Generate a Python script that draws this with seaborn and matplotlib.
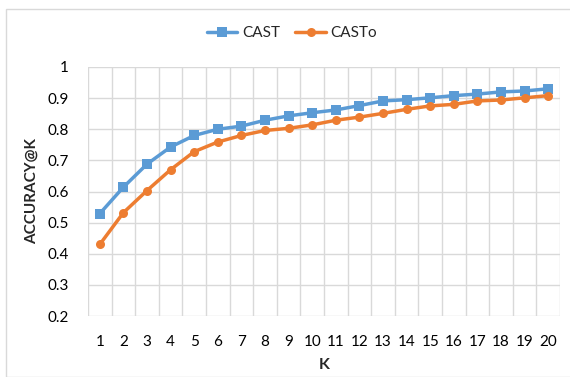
import matplotlib
matplotlib.use("Agg")
import matplotlib.pyplot as plt
import seaborn as sns
import pandas as pd
from matplotlib.patches import Rectangle
from matplotlib.lines import Line2D

k_values = list(range(1, 21))
cast = [0.529, 0.614, 0.688, 0.743, 0.780, 0.800, 0.810, 0.829, 0.843, 0.853,
        0.862, 0.876, 0.891, 0.895, 0.901, 0.908, 0.913, 0.920, 0.923, 0.930]
casto = [0.430, 0.532, 0.603, 0.670, 0.728, 0.759, 0.780, 0.796, 0.803, 0.814,
         0.829, 0.839, 0.851, 0.864, 0.875, 0.880, 0.891, 0.894, 0.901, 0.908]
y_ticks = [0.2, 0.3, 0.4, 0.5, 0.6, 0.7, 0.8, 0.9, 1.0]
y_tick_labels = ["0.2", "0.3", "0.4", "0.5", "0.6", "0.7", "0.8", "0.9", "1"]

sns.set_theme(style="white")
plt.rcParams['font.family'] = ['Lato', 'DejaVu Sans']

df = pd.DataFrame({
    "K": k_values * 2,
    "acc": cast + casto,
    "series": ["CAST"] * len(k_values) + ["CASTo"] * len(k_values),
})

fig = plt.figure(figsize=(5.7, 3.77), dpi=100)
fig.patches.append(Rectangle((6 / 570, 0), 1, 1 - 9 / 377, transform=fig.transFigure,
                             fill=False, edgecolor="#D9D9D9", linewidth=1))
ax = fig.add_axes([88 / 570, 61 / 377, 472 / 570, 249 / 377])

palette = {"CAST": "#5B9BD5", "CASTo": "#ED7D31"}
sns.lineplot(data=df, x="K", y="acc", hue="series", style="series",
             markers={"CAST": "s", "CASTo": "o"}, dashes=False,
             palette=palette, linewidth=2.5, markersize=6.5,
             markeredgewidth=0, ax=ax, legend=False)

ax.set_xlim(0.5, 20.5)
ax.set_ylim(0.2, 1.0)
ax.set_yticks(y_ticks)
ax.set_yticklabels(y_tick_labels)
ax.set_xticks(k_values)
ax.set_xticklabels([str(k) for k in k_values])
ax.set_xticks([k + 0.5 for k in range(0, 21)], minor=True)
ax.grid(False)
for y in y_ticks:
    ax.axhline(y, color="#D9D9D9", linewidth=1, zorder=0)
for x in [k + 0.5 for k in range(0, 21)]:
    ax.axvline(x, color="#D9D9D9", linewidth=1, zorder=0)
ax.tick_params(axis="x", which="major", length=0, pad=14, labelsize=11, colors="#000000")
ax.tick_params(axis="x", which="minor", length=6, width=1, color="#D9D9D9", direction="out")
ax.tick_params(axis="y", length=0, pad=14, labelsize=11, colors="#000000")
for s in ax.spines.values():
    s.set_visible(False)
ax.set_ylabel("ACCURACY@K", fontsize=11, fontweight="bold", labelpad=6)
ax.set_xlabel("K", fontsize=11.5, fontweight="bold", labelpad=6)

handles = [Line2D([0], [0], color="#5B9BD5", marker="s", lw=2.5, markersize=6.5, markeredgewidth=0),
           Line2D([0], [0], color="#ED7D31", marker="o", lw=2.5, markersize=6.5, markeredgewidth=0)]
fig.legend(handles, ["CAST", "CASTo"], loc="center", bbox_to_anchor=(292 / 570, 1 - 33 / 377),
           ncol=2, frameon=False, fontsize=11, handlelength=2.0, columnspacing=1.0, handletextpad=0.3)

fig.savefig("out.png", dpi=100)
